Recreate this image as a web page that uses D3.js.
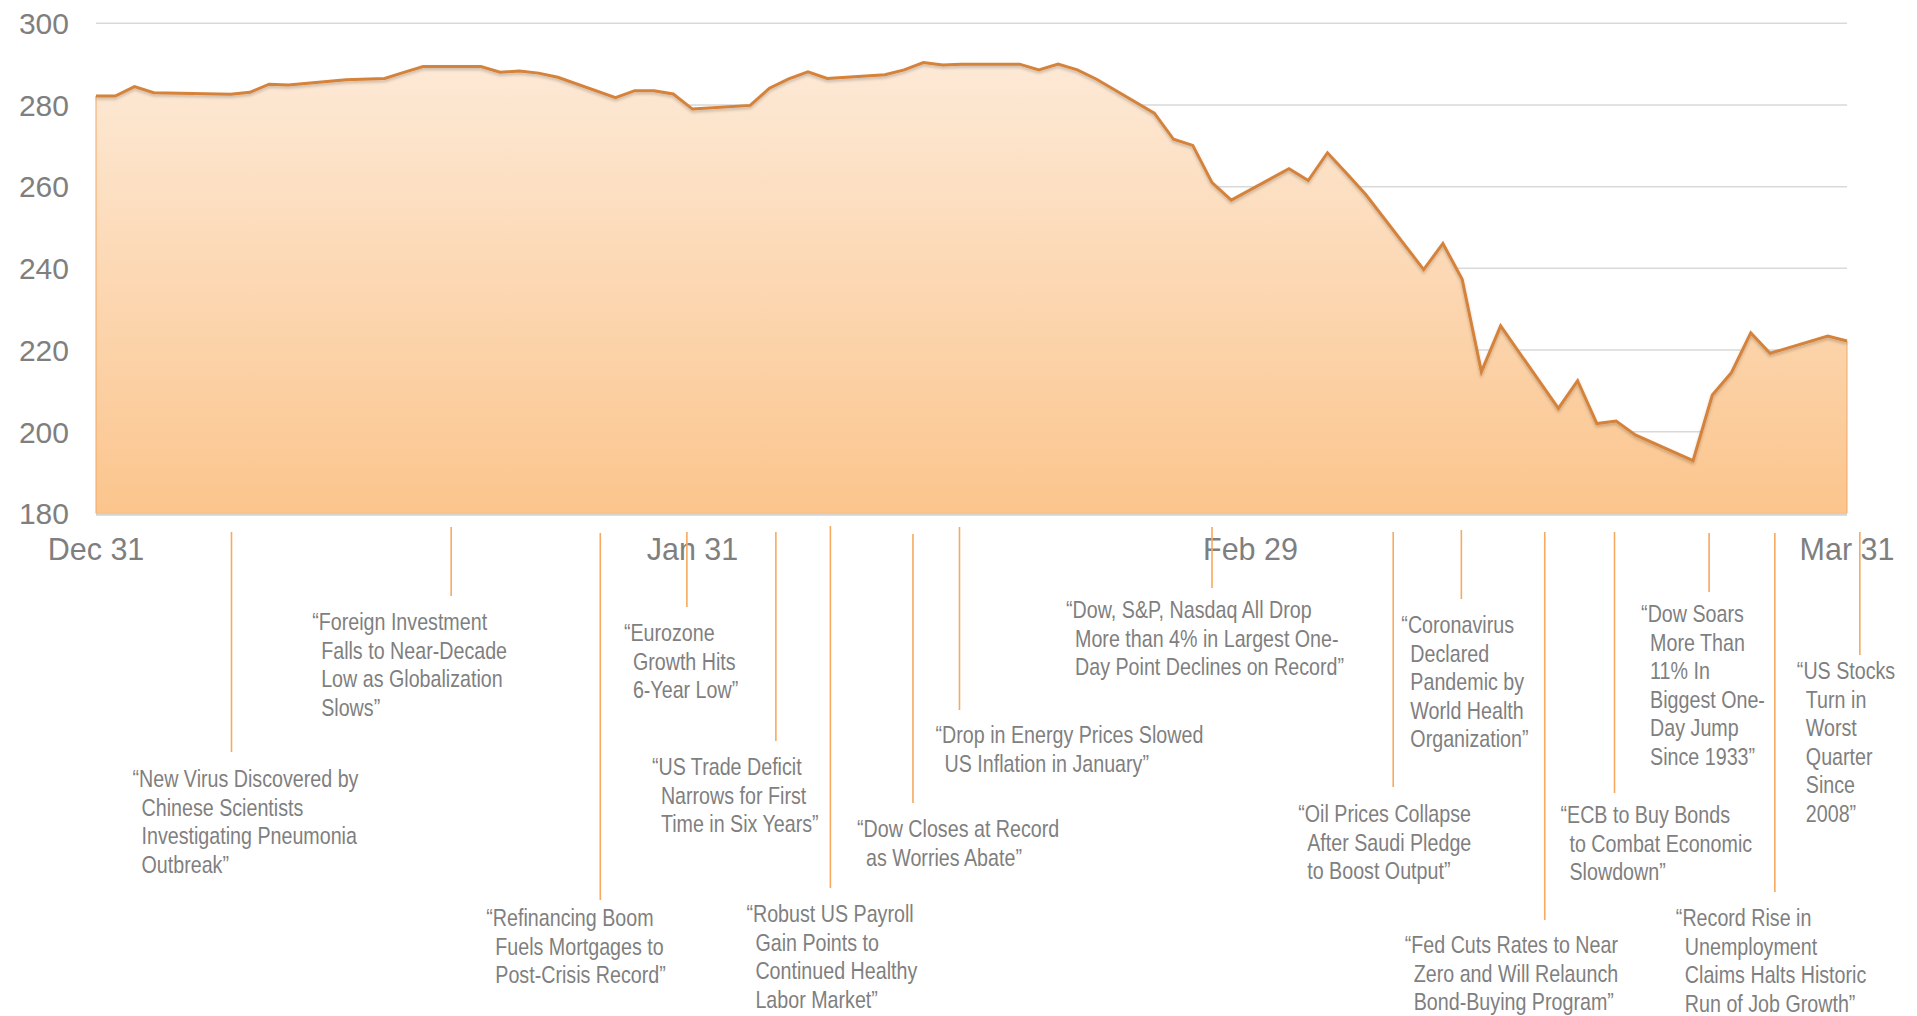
<!DOCTYPE html>
<html>
<head>
<meta charset="utf-8">
<script src="https://cdn.jsdelivr.net/npm/d3@7"></script>
<style>
  body { margin: 0; background: #fff; }
</style>
</head>
<body>
<div id="wrapper"></div>
<script>
// series
const dates = ["2019-12-31","2020-01-01","2020-01-02","2020-01-03","2020-01-07","2020-01-08","2020-01-09","2020-01-10",
  "2020-01-13","2020-01-15","2020-01-16","2020-01-17","2020-01-20","2020-01-21","2020-01-22","2020-01-23","2020-01-24",
  "2020-01-27","2020-01-28","2020-01-29","2020-01-30","2020-01-31","2020-02-03","2020-02-04","2020-02-05","2020-02-06",
  "2020-02-07","2020-02-10","2020-02-11","2020-02-12","2020-02-13","2020-02-14","2020-02-17","2020-02-18","2020-02-19",
  "2020-02-20","2020-02-21","2020-02-24","2020-02-25","2020-02-26","2020-02-27","2020-02-28","2020-03-02","2020-03-03",
  "2020-03-04","2020-03-05","2020-03-06","2020-03-09","2020-03-10","2020-03-11","2020-03-12","2020-03-13","2020-03-16",
  "2020-03-17","2020-03-18","2020-03-19","2020-03-20","2020-03-23","2020-03-24","2020-03-25","2020-03-26","2020-03-27",
  "2020-03-30","2020-03-31"];
const values = [282.2,282.2,284.5,283.0,282.6,283.1,285.1,284.9,
  286.2,286.5,288.0,289.4,289.4,288.0,288.3,287.8,286.8,
  281.8,283.5,283.5,282.7,279.0,279.9,284.1,286.4,288.1,
  286.5,287.4,288.6,290.4,289.8,290.0,290.0,288.6,290.0,
  288.6,286.3,278.0,271.6,270.1,261.0,256.7,264.4,261.5,
  268.3,263.2,258.0,239.7,246.1,237.3,214.7,225.9,205.7,
  212.5,202.0,202.6,199.2,192.9,209.0,214.5,224.2,219.2,
  223.4,222.2];

const yTicks = [180, 200, 220, 240, 260, 280, 300];
const xTickDates = ["2019-12-31", "2020-01-31", "2020-02-29", "2020-03-31"];
const xTickLabels = ["Dec 31", "Jan 31", "Feb 29", "Mar 31"];

// headlines
const eventDates = ["2020-01-07T01:00","2020-01-18T11:00","2020-01-26T05:00","2020-01-30T17:00","2020-02-04T08:00",
  "2020-02-07T04:00","2020-02-11T11:00","2020-02-13T21:00","2020-02-27T00:00","2020-03-07T10:00","2020-03-10T23:00",
  "2020-03-15T07:00","2020-03-18T22:00","2020-03-23T20:00","2020-03-27T06:00","2020-03-31T16:00"];
const eventTexts = [
  ["\u201cNew Virus Discovered by", "Chinese Scientists", "Investigating Pneumonia", "Outbreak\u201d"],
  ["\u201cForeign Investment", "Falls to Near-Decade", "Low as Globalization", "Slows\u201d"],
  ["\u201cRefinancing Boom", "Fuels Mortgages to", "Post-Crisis Record\u201d"],
  ["\u201cEurozone", "Growth Hits", "6-Year Low\u201d"],
  ["\u201cUS Trade Deficit", "Narrows for First", "Time in Six Years\u201d"],
  ["\u201cRobust US Payroll", "Gain Points to", "Continued Healthy", "Labor Market\u201d"],
  ["\u201cDow Closes at Record", "as Worries Abate\u201d"],
  ["\u201cDrop in Energy Prices Slowed", "US Inflation in January\u201d"],
  ["\u201cDow, S&P, Nasdaq All Drop", "More than 4% in Largest One-", "Day Point Declines on Record\u201d"],
  ["\u201cOil Prices Collapse", "After Saudi Pledge", "to Boost Output\u201d"],
  ["\u201cCoronavirus", "Declared", "Pandemic by", "World Health", "Organization\u201d"],
  ["\u201cFed Cuts Rates to Near", "Zero and Will Relaunch", "Bond-Buying Program\u201d"],
  ["\u201cECB to Buy Bonds", "to Combat Economic", "Slowdown\u201d"],
  ["\u201cDow Soars", "More Than", "11% In", "Biggest One-", "Day Jump", "Since 1933\u201d"],
  ["\u201cRecord Rise in", "Unemployment", "Claims Halts Historic", "Run of Job Growth\u201d"],
  ["\u201cUS Stocks", "Turn in", "Worst", "Quarter", "Since", "2008\u201d"]
];

// placement of each headline: leader top/bottom, text offset from leader, first baseline
const eventLayout = [
  { y1: 532, y2: 752, dx: -99, ty: 787 },
  { y1: 527, y2: 596, dx: -139, ty: 630 },
  { y1: 533, y2: 900, dx: -114, ty: 926 },
  { y1: 532, y2: 607, dx: -63, ty: 641 },
  { y1: 532, y2: 741, dx: -124, ty: 775 },
  { y1: 526, y2: 888, dx: -84, ty: 922 },
  { y1: 534, y2: 803, dx: -56, ty: 837 },
  { y1: 527, y2: 710, dx: -24, ty: 743 },
  { y1: 527, y2: 588, dx: -146, ty: 618 },
  { y1: 532, y2: 787, dx: -95, ty: 822 },
  { y1: 530, y2: 599, dx: -60, ty: 633 },
  { y1: 532, y2: 920, dx: -140, ty: 953 },
  { y1: 532, y2: 793, dx: -54, ty: 823 },
  { y1: 533, y2: 592, dx: -68, ty: 622 },
  { y1: 533, y2: 892, dx: -99, ty: 926 },
  { y1: 532, y2: 655, dx: -63, ty: 679 }
];

const width = 1917, height = 1016;
const plotL = 96, plotR = 1847, plotT = 23.3, plotB = 513.4;
const parse = d3.isoParse;
const grey = "#7f7f7f";

function hasFont(name) {
  const c = document.createElement("canvas").getContext("2d");
  const s = "abcdefghijklmnopqrstuvwxyz ABCDEFG 0123";
  c.font = "40px monospace";
  const a = c.measureText(s).width;
  c.font = `40px "${name}", monospace`;
  return c.measureText(s).width !== a;
}
const narrow = hasFont("Liberation Sans Narrow");
const noteFont = narrow ? '"Liberation Sans Narrow", "Arial Narrow", sans-serif' : '"Liberation Sans", Arial, sans-serif';
const squeeze = narrow ? 1 : 0.82;

const data = dates.map((d, i) => ({ date: parse(d), value: values[i] }));

const x = d3.scaleTime()
  .domain([parse(xTickDates[0]), parse(xTickDates[xTickDates.length - 1])])
  .range([plotL, plotR]);
const y = d3.scaleLinear().domain([180, 300]).range([plotB, plotT]);

const svg = d3.select("#wrapper").append("svg")
  .attr("width", width)
  .attr("height", height)
  .attr("viewBox", [0, 0, width, height])
  .style("display", "block")
  .style("background", "#fff");

const defs = svg.append("defs");
const grad = defs.append("linearGradient")
  .attr("id", "fillGrad")
  .attr("gradientUnits", "userSpaceOnUse")
  .attr("x1", 0).attr("x2", 0)
  .attr("y1", y(290)).attr("y2", y(180));
grad.append("stop").attr("offset", 0).attr("stop-color", "#fde9d6");
grad.append("stop").attr("offset", 1).attr("stop-color", "#fbc58d");

const shadow = defs.append("filter").attr("id", "shadow")
  .attr("x", "-5%").attr("y", "-20%").attr("width", "110%").attr("height", "140%");
shadow.append("feDropShadow")
  .attr("dx", 0).attr("dy", 2).attr("stdDeviation", 1.5)
  .attr("flood-color", "#000").attr("flood-opacity", 0.22);

// gridlines
svg.append("g")
  .selectAll("line")
  .data(yTicks.filter(t => t > 180))
  .join("line")
  .attr("x1", plotL).attr("x2", plotR)
  .attr("y1", d => y(d)).attr("y2", d => y(d))
  .attr("stroke", "#d9d9d9")
  .attr("stroke-width", 1.5);

// area + line
svg.append("path")
  .datum(data)
  .attr("d", d3.area().x(d => x(d.date)).y0(y(180)).y1(d => y(d.value)))
  .attr("fill", "url(#fillGrad)")
  .attr("stroke", "#f2a766")
  .attr("stroke-width", 1);

svg.append("path")
  .datum(data)
  .attr("d", d3.line().x(d => x(d.date)).y(d => y(d.value)))
  .attr("fill", "none")
  .attr("stroke", "#d5823b")
  .attr("stroke-width", 3)
  .attr("stroke-linejoin", "miter")
  .attr("filter", "url(#shadow)");

// baseline
svg.append("line")
  .attr("x1", plotL).attr("x2", plotR)
  .attr("y1", y(180) + 1).attr("y2", y(180) + 1)
  .attr("stroke", "#d4d4d4")
  .attr("stroke-width", 2.5);

// y labels
svg.append("g")
  .selectAll("text")
  .data(yTicks)
  .join("text")
  .attr("x", 69)
  .attr("y", d => y(d))
  .attr("dy", "0.36em")
  .attr("text-anchor", "end")
  .attr("fill", grey)
  .style("font", '30px "Liberation Sans", Arial, sans-serif')
  .text(d => d);

// x labels
svg.append("g")
  .selectAll("text")
  .data(xTickDates)
  .join("text")
  .attr("x", d => x(parse(d)))
  .attr("y", 560)
  .attr("text-anchor", "middle")
  .attr("fill", grey)
  .style("font", '30.5px "Liberation Sans", Arial, sans-serif')
  .text((d, i) => xTickLabels[i]);

// headlines
const notes = svg.append("g")
  .selectAll("g")
  .data(eventDates.map((d, i) => ({ date: parse(d), lines: eventTexts[i], pos: eventLayout[i] })))
  .join("g");

notes.append("line")
  .attr("x1", d => x(d.date)).attr("x2", d => x(d.date))
  .attr("y1", d => d.pos.y1).attr("y2", d => d.pos.y2)
  .attr("stroke", "#f7a95f")
  .attr("stroke-width", 1.6);

const lineGap = 28.6, indent = 9;
notes.each(function (d) {
  const g = d3.select(this);
  const x0 = x(d.date) + d.pos.dx;
  d.lines.forEach((t, i) => {
    g.append("text")
      .attr("transform", `translate(${x0 + (i ? indent : 0)},${d.pos.ty + i * lineGap}) scale(${squeeze},1)`)
      .attr("fill", grey)
      .style("font", `24px ${noteFont}`)
      .text(t);
  });
});
</script>
</body>
</html>
